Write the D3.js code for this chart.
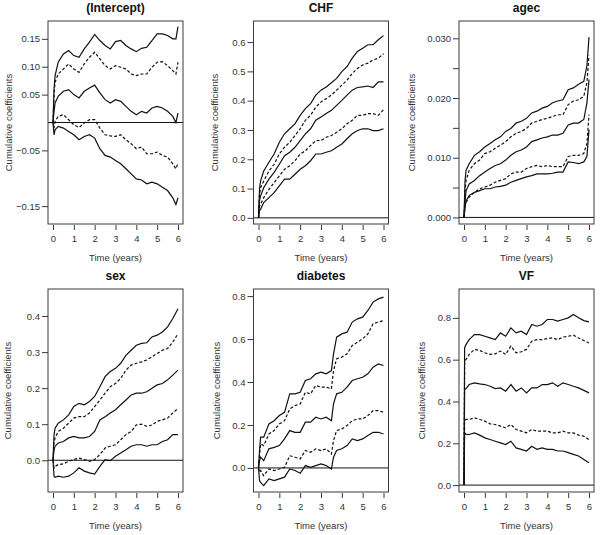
<!DOCTYPE html>
<html>
<head>
<meta charset="utf-8">
<script src="https://cdn.jsdelivr.net/npm/d3@7"></script>
<style>
  body { margin: 0; background: #fff; }
  svg { display: block; font-family: "Liberation Sans", Arial, sans-serif; }
</style>
</head>
<body>
<div id="chart"></div>
<script>
// ——— DATA ——————————————————————————————————————————————————————————
// each panel: 5 curves (upper band, upper pointwise, estimate, lower pointwise, lower band)
const xTicks = [0, 1, 2, 3, 4, 5, 6];

const interceptTime = [0, 0.05, 0.1, 0.25, 0.5, 0.75, 1, 1.25, 1.5, 1.75, 2, 2.25, 2.5, 2.75, 3, 3.25, 3.5, 3.75, 4, 4.25, 4.5, 4.75, 5, 5.25, 5.5, 5.75, 5.9, 6];
const interceptTop = [0, 0.06, 0.084, 0.108, 0.123, 0.129, 0.12, 0.117, 0.132, 0.144, 0.158, 0.147, 0.138, 0.132, 0.145, 0.147, 0.138, 0.132, 0.127, 0.133, 0.135, 0.147, 0.159, 0.159, 0.156, 0.150, 0.150, 0.172];
const interceptUpper = [0, 0.05, 0.072, 0.087, 0.096, 0.105, 0.096, 0.09, 0.105, 0.117, 0.126, 0.114, 0.102, 0.096, 0.102, 0.099, 0.096, 0.087, 0.084, 0.087, 0.087, 0.099, 0.108, 0.109, 0.102, 0.093, 0.087, 0.108];
const interceptMid = [0, 0.02, 0.035, 0.047, 0.056, 0.059, 0.05, 0.044, 0.056, 0.062, 0.067, 0.053, 0.041, 0.035, 0.041, 0.038, 0.029, 0.02, 0.014, 0.02, 0.017, 0.026, 0.029, 0.026, 0.02, 0.011, 0.0, 0.017];
const interceptLower = [0, -0.01, 0.002, 0.011, 0.014, 0.005, -0.004, -0.009, -0.001, 0.005, 0.005, -0.01, -0.022, -0.024, -0.025, -0.022, -0.031, -0.038, -0.047, -0.044, -0.056, -0.056, -0.053, -0.059, -0.062, -0.074, -0.083, -0.073];
const interceptBottom = [0, -0.022, -0.013, -0.007, -0.01, -0.016, -0.022, -0.031, -0.025, -0.022, -0.028, -0.047, -0.059, -0.062, -0.068, -0.074, -0.083, -0.092, -0.101, -0.103, -0.11, -0.107, -0.11, -0.116, -0.122, -0.135, -0.147, -0.135];
const interceptTicks = [-0.15, -0.05, 0.05, 0.10, 0.15];
const interceptLabels = ["\u22120.15", "\u22120.05", "0.05", "0.10", "0.15"];

const chfTime = [0, 0.05, 0.1, 0.25, 0.5, 0.75, 1, 1.25, 1.5, 1.75, 2, 2.25, 2.5, 2.75, 3, 3.25, 3.5, 3.75, 4, 4.25, 4.5, 4.75, 5, 5.25, 5.5, 5.75, 6];
const chfTop = [0, 0.10, 0.126, 0.16, 0.19, 0.218, 0.258, 0.287, 0.304, 0.321, 0.35, 0.373, 0.39, 0.419, 0.436, 0.447, 0.461, 0.476, 0.499, 0.516, 0.545, 0.568, 0.579, 0.591, 0.591, 0.608, 0.622];
const chfUpper = [0, 0.08, 0.103, 0.126, 0.16, 0.183, 0.218, 0.241, 0.258, 0.281, 0.304, 0.333, 0.35, 0.378, 0.396, 0.407, 0.419, 0.436, 0.453, 0.47, 0.493, 0.51, 0.522, 0.528, 0.539, 0.545, 0.56];
const chfMid = [0, 0.06, 0.075, 0.103, 0.132, 0.155, 0.183, 0.212, 0.224, 0.241, 0.264, 0.287, 0.304, 0.333, 0.344, 0.356, 0.367, 0.384, 0.401, 0.419, 0.436, 0.445, 0.447, 0.45, 0.445, 0.464, 0.464];
const chfLower = [0, 0.04, 0.046, 0.069, 0.097, 0.12, 0.143, 0.166, 0.178, 0.195, 0.218, 0.229, 0.247, 0.264, 0.264, 0.275, 0.281, 0.292, 0.304, 0.321, 0.333, 0.35, 0.35, 0.356, 0.356, 0.35, 0.369];
const chfBottom = [0, 0.025, 0.029, 0.052, 0.069, 0.086, 0.109, 0.132, 0.132, 0.149, 0.166, 0.178, 0.195, 0.218, 0.218, 0.224, 0.229, 0.241, 0.252, 0.27, 0.287, 0.298, 0.304, 0.304, 0.298, 0.298, 0.304];
const chfTicks = [0, 0.1, 0.2, 0.3, 0.4, 0.5, 0.6];
const chfLabels = ["0.0", "0.1", "0.2", "0.3", "0.4", "0.5", "0.6"];

const agecTime = [0, 0.05, 0.1, 0.25, 0.5, 0.75, 1, 1.25, 1.5, 1.75, 2, 2.25, 2.5, 2.75, 3, 3.25, 3.5, 3.75, 4, 4.25, 4.5, 4.75, 5, 5.25, 5.5, 5.75, 5.9, 6];
const agecTop = [0, 0.0062, 0.0079, 0.009, 0.0104, 0.011, 0.0118, 0.0124, 0.013, 0.0135, 0.0144, 0.0149, 0.0158, 0.0161, 0.0166, 0.0175, 0.0178, 0.0183, 0.0186, 0.0192, 0.0195, 0.0197, 0.0214, 0.0217, 0.0223, 0.0228, 0.0254, 0.0302];
const agecUpper = [0, 0.0045, 0.0062, 0.0079, 0.009, 0.0096, 0.0107, 0.011, 0.0116, 0.0121, 0.0127, 0.0135, 0.0141, 0.0144, 0.0149, 0.0158, 0.0161, 0.0164, 0.0166, 0.0169, 0.0172, 0.0172, 0.0189, 0.0195, 0.0197, 0.0203, 0.0226, 0.0271];
const agecMid = [0, 0.0028, 0.0045, 0.0056, 0.0062, 0.007, 0.0076, 0.0082, 0.0087, 0.009, 0.0096, 0.0104, 0.011, 0.0113, 0.0118, 0.0127, 0.013, 0.0133, 0.0135, 0.0138, 0.0138, 0.0141, 0.0155, 0.0158, 0.0158, 0.0164, 0.0192, 0.0231];
const agecLower = [0, 0.002, 0.0025, 0.0034, 0.0042, 0.0048, 0.0051, 0.0054, 0.0059, 0.0062, 0.0065, 0.0073, 0.0076, 0.0076, 0.0082, 0.0085, 0.0087, 0.0085, 0.0087, 0.0085, 0.0085, 0.0085, 0.0102, 0.0104, 0.0104, 0.0107, 0.0124, 0.0172];
const agecBottom = [0, 0.0017, 0.0028, 0.0037, 0.0042, 0.0045, 0.0048, 0.0048, 0.0051, 0.0052, 0.0054, 0.0059, 0.0062, 0.0065, 0.0068, 0.007, 0.0073, 0.0073, 0.0073, 0.0074, 0.0076, 0.0076, 0.0093, 0.0092, 0.009, 0.0093, 0.0102, 0.0147];
const agecTicks = [0, 0.005, 0.010, 0.015, 0.020, 0.025, 0.030];
const agecLabels = ["0.000", "", "0.010", "", "0.020", "", "0.030"];

const sexTime = [0, 0.05, 0.1, 0.25, 0.5, 0.75, 1, 1.25, 1.5, 1.75, 2, 2.25, 2.5, 2.75, 3, 3.25, 3.5, 3.75, 4, 4.25, 4.5, 4.75, 5, 5.25, 5.5, 5.75, 6];
const sexTop = [0, 0.071, 0.089, 0.103, 0.112, 0.126, 0.149, 0.158, 0.154, 0.163, 0.177, 0.204, 0.232, 0.246, 0.255, 0.269, 0.291, 0.305, 0.319, 0.324, 0.326, 0.342, 0.347, 0.356, 0.37, 0.393, 0.42];
const sexUpper = [0, 0.05, 0.062, 0.08, 0.089, 0.103, 0.117, 0.121, 0.121, 0.131, 0.149, 0.167, 0.186, 0.204, 0.213, 0.227, 0.25, 0.264, 0.269, 0.273, 0.278, 0.287, 0.296, 0.305, 0.31, 0.328, 0.351];
const sexMid = [0, 0.029, 0.039, 0.048, 0.052, 0.062, 0.066, 0.062, 0.062, 0.066, 0.08, 0.112, 0.121, 0.131, 0.14, 0.154, 0.167, 0.181, 0.186, 0.186, 0.19, 0.2, 0.209, 0.213, 0.223, 0.236, 0.25];
const sexLower = [0, -0.021, -0.017, -0.012, -0.01, -0.003, 0.002, 0.006, 0.002, -0.003, 0.002, 0.016, 0.034, 0.039, 0.043, 0.057, 0.071, 0.08, 0.098, 0.1, 0.094, 0.098, 0.108, 0.112, 0.117, 0.131, 0.144];
const sexBottom = [0, -0.044, -0.047, -0.044, -0.047, -0.044, -0.035, -0.021, -0.03, -0.035, -0.038, -0.017, 0.002, -0.001, 0.011, 0.02, 0.029, 0.039, 0.043, 0.043, 0.039, 0.043, 0.043, 0.052, 0.057, 0.071, 0.071];
const sexTicks = [0, 0.1, 0.2, 0.3, 0.4];
const sexLabels = ["0.0", "0.1", "0.2", "0.3", "0.4"];

const diabetesTime = [0, 0.05, 0.1, 0.25, 0.5, 0.75, 1, 1.25, 1.5, 1.75, 2, 2.25, 2.5, 2.75, 3, 3.25, 3.5, 3.6, 3.75, 4, 4.25, 4.5, 4.75, 5, 5.25, 5.5, 5.75, 6];
const diabetesTop = [0, 0.081, 0.143, 0.143, 0.205, 0.22, 0.244, 0.259, 0.345, 0.345, 0.352, 0.407, 0.415, 0.438, 0.446, 0.438, 0.453, 0.53, 0.609, 0.624, 0.632, 0.679, 0.694, 0.702, 0.733, 0.772, 0.787, 0.795];
const diabetesUpper = [0, 0.06, 0.112, 0.104, 0.158, 0.174, 0.205, 0.22, 0.275, 0.29, 0.298, 0.352, 0.345, 0.384, 0.376, 0.376, 0.368, 0.453, 0.508, 0.516, 0.531, 0.57, 0.585, 0.601, 0.624, 0.671, 0.679, 0.686];
const diabetesMid = [0, 0.034, 0.05, 0.034, 0.089, 0.096, 0.104, 0.135, 0.174, 0.166, 0.166, 0.213, 0.213, 0.236, 0.228, 0.236, 0.22, 0.298, 0.345, 0.352, 0.376, 0.407, 0.415, 0.422, 0.438, 0.469, 0.484, 0.477];
const diabetesLower = [0, -0.02, -0.012, -0.036, -0.005, -0.012, -0.005, 0.003, 0.057, 0.05, 0.042, 0.081, 0.073, 0.089, 0.081, 0.089, 0.065, 0.127, 0.174, 0.182, 0.197, 0.22, 0.228, 0.228, 0.244, 0.267, 0.267, 0.259];
const diabetesBottom = [0, -0.059, -0.067, -0.082, -0.051, -0.059, -0.051, -0.043, -0.005, -0.012, -0.025, 0.011, 0.003, 0.011, 0.019, 0.011, -0.005, 0.05, 0.081, 0.089, 0.104, 0.135, 0.127, 0.135, 0.151, 0.166, 0.166, 0.158];
const diabetesTicks = [0, 0.2, 0.4, 0.6, 0.8];
const diabetesLabels = ["0.0", "0.2", "0.4", "0.6", "0.8"];

const vfTime = [0, 0.03, 0.1, 0.25, 0.5, 0.75, 1, 1.25, 1.5, 1.75, 2, 2.25, 2.5, 2.75, 3, 3.25, 3.5, 3.75, 4, 4.25, 4.5, 4.75, 5, 5.25, 5.5, 5.75, 6];
const vfTop = [0, 0.657, 0.673, 0.696, 0.72, 0.72, 0.712, 0.704, 0.696, 0.728, 0.712, 0.752, 0.728, 0.736, 0.72, 0.768, 0.76, 0.768, 0.792, 0.792, 0.784, 0.792, 0.8, 0.816, 0.8, 0.787, 0.781];
const vfUpper = [0, 0.593, 0.601, 0.625, 0.649, 0.644, 0.633, 0.625, 0.628, 0.641, 0.625, 0.665, 0.633, 0.638, 0.649, 0.688, 0.696, 0.696, 0.701, 0.704, 0.696, 0.708, 0.712, 0.717, 0.704, 0.692, 0.68];
const vfMid = [0, 0.457, 0.462, 0.481, 0.489, 0.484, 0.481, 0.473, 0.462, 0.465, 0.449, 0.481, 0.449, 0.465, 0.441, 0.465, 0.465, 0.481, 0.481, 0.489, 0.473, 0.489, 0.481, 0.473, 0.465, 0.453, 0.441];
const vfLower = [0, 0.306, 0.314, 0.314, 0.322, 0.314, 0.306, 0.293, 0.29, 0.282, 0.274, 0.29, 0.266, 0.258, 0.25, 0.266, 0.258, 0.258, 0.258, 0.25, 0.25, 0.258, 0.25, 0.25, 0.239, 0.234, 0.218];
const vfBottom = [0, 0.25, 0.242, 0.242, 0.25, 0.239, 0.226, 0.218, 0.21, 0.202, 0.194, 0.21, 0.178, 0.171, 0.163, 0.186, 0.171, 0.178, 0.171, 0.171, 0.163, 0.163, 0.155, 0.147, 0.139, 0.123, 0.107];
const vfTicks = [0, 0.2, 0.4, 0.6, 0.8];
const vfLabels = ["0.0", "0.2", "0.4", "0.6", "0.8"];

// ——— LAYOUT ————————————————————————————————————————————————————————
const W = 600, H = 535;
const colLeft = [48, 253.5, 459];
const rowTop = [21, 289];
const boxW = 135, boxH = 203;
const dashes = [null, "3,2", null, "3,2", null];

const panels = [
    { title: "(Intercept)", col: 0, row: 0, dom: [-0.182, 0.182], labX: 9,
      time: interceptTime, ticks: interceptTicks, labels: interceptLabels,
      curves: [interceptTop, interceptUpper, interceptMid, interceptLower, interceptBottom] },
    { title: "CHF", col: 1, row: 0, dom: [-0.021, 0.672], labX: 215,
      time: chfTime, ticks: chfTicks, labels: chfLabels,
      curves: [chfTop, chfUpper, chfMid, chfLower, chfBottom] },
    { title: "agec", col: 2, row: 0, dom: [-0.0011, 0.0329], labX: 412,
      time: agecTime, ticks: agecTicks, labels: agecLabels,
      curves: [agecTop, agecUpper, agecMid, agecLower, agecBottom] },
    { title: "sex", col: 0, row: 1, dom: [-0.088, 0.475], labX: 8,
      time: sexTime, ticks: sexTicks, labels: sexLabels,
      curves: [sexTop, sexUpper, sexMid, sexLower, sexBottom] },
    { title: "diabetes", col: 1, row: 1, dom: [-0.112, 0.833], labX: 217,
      time: diabetesTime, ticks: diabetesTicks, labels: diabetesLabels,
      curves: [diabetesTop, diabetesUpper, diabetesMid, diabetesLower, diabetesBottom] },
    { title: "VF", col: 2, row: 1, dom: [-0.033, 0.938], labX: 422,
      time: vfTime, ticks: vfTicks, labels: vfLabels,
      curves: [vfTop, vfUpper, vfMid, vfLower, vfBottom] }
];

const svg = d3.select("#chart").append("svg")
    .attr("width", W)
    .attr("height", H);

svg.append("rect").attr("width", W).attr("height", H).attr("fill", "#fff");

const axisColor = "#3a3a3a";
const textColor = "#333";

panels.forEach((p) => {
    const left = colLeft[p.col];
    const top = rowTop[p.row];
    const g = svg.append("g").attr("transform", `translate(${left},${top})`);

    const x = d3.scaleLinear().domain([-0.24, 6.24]).range([0, boxW]);
    const y = d3.scaleLinear().domain(p.dom).range([boxH, 0]);

    // clip the curves to the box
    const clipId = "clip-" + p.col + "-" + p.row;
    g.append("clipPath").attr("id", clipId)
        .append("rect").attr("width", boxW).attr("height", boxH);

    // ——— AXES ——————————————————————————————————————————————————————
    const xaxis = d3.axisBottom(x).tickValues(xTicks).tickSize(5).tickPadding(5).tickFormat(d3.format("d"));
    const gx = g.append("g")
        .attr("transform", `translate(0,${boxH + 1})`)
        .call(xaxis);
    gx.select(".domain").remove();

    const yaxis = d3.axisLeft(y).tickValues(p.ticks).tickSize(6).tickPadding(2)
        .tickFormat((d, i) => p.labels[i]);
    const gy = g.append("g").call(yaxis);
    gy.select(".domain").remove();

    [gx, gy].forEach((a) => {
        a.selectAll("line").attr("stroke", axisColor);
        a.selectAll("text").attr("fill", textColor)
            .style("font-size", "9.5px");
    });

    // zero reference line
    g.append("line")
        .attr("x1", 0).attr("x2", boxW)
        .attr("y1", y(0)).attr("y2", y(0))
        .attr("stroke", "#111").attr("stroke-width", 1);

    // ——— LINES —————————————————————————————————————————————————————
    const line = d3.line()
        .x((d) => x(d[0]))
        .y((d) => y(d[1]));

    const lines = g.append("g").attr("clip-path", `url(#${clipId})`);
    p.curves.forEach((vals, i) => {
        lines.append("path")
            .attr("d", line(p.time.map((t, k) => [t, vals[k]])))
            .attr("fill", "none")
            .attr("stroke", "#111")
            .attr("stroke-width", 1.2)
            .attr("stroke-dasharray", dashes[i]);
    });

    // box
    g.append("rect")
        .attr("width", boxW).attr("height", boxH)
        .attr("fill", "none").attr("stroke", axisColor).attr("stroke-width", 1);

    // ——— TEXT ——————————————————————————————————————————————————————
    g.append("text")
        .attr("x", boxW / 2).attr("y", -9)
        .attr("text-anchor", "middle")
        .style("font-size", "12px").style("font-weight", "bold")
        .attr("fill", "#111")
        .text(p.title);

    g.append("text")
        .attr("x", boxW / 2).attr("y", boxH + 37)
        .attr("text-anchor", "middle")
        .style("font-size", "9.5px")
        .attr("fill", textColor)
        .text("Time (years)");

    svg.append("text")
        .attr("transform", `translate(${p.labX},${top + boxH / 2}) rotate(-90)`)
        .attr("dy", "0.35em")
        .attr("text-anchor", "middle")
        .style("font-size", "9.5px")
        .attr("fill", textColor)
        .text("Cumulative coefficients");
});
</script>
</body>
</html>
